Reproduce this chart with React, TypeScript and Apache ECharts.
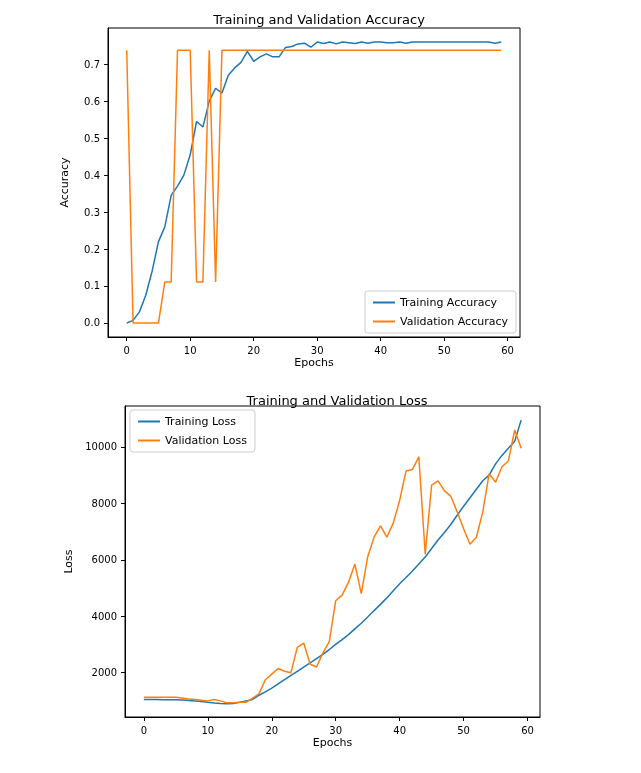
import React, { useEffect, useRef } from 'react'
import * as echarts from 'echarts';

const epochs = Array.from({ length: 60 }, (_, i) => i);

const trainAcc = [0.0, 0.007, 0.03, 0.075, 0.14, 0.22, 0.26, 0.345, 0.37, 0.4, 0.455, 0.545, 0.53, 0.6, 0.635, 0.622, 0.67, 0.69, 0.705, 0.735,
  0.708, 0.72, 0.728, 0.72, 0.72, 0.745, 0.748, 0.755, 0.757, 0.746, 0.76, 0.756, 0.76, 0.755, 0.76, 0.758, 0.756, 0.76, 0.757, 0.76,
  0.76, 0.758, 0.758, 0.76, 0.757, 0.76, 0.76, 0.76, 0.76, 0.76, 0.76, 0.76, 0.76, 0.76, 0.76, 0.76, 0.76, 0.76, 0.757, 0.76];
const valAcc = [0.738, 0, 0, 0, 0, 0, 0.111, 0.111, 0.738, 0.738, 0.738, 0.111, 0.111, 0.738, 0.111,
  ...Array(45).fill(0.738)];

const trainLoss = [1050, 1048, 1046, 1044, 1042, 1040, 1030, 1015, 1000, 980, 950, 925, 905, 900, 905, 950, 1000, 1050, 1200, 1320,
  1450, 1600, 1750, 1900, 2050, 2200, 2350, 2500, 2650, 2820, 3000, 3170, 3350, 3550, 3750, 3970, 4200, 4420, 4650, 4900,
  5150, 5370, 5600, 5850, 6100, 6400, 6700, 6970, 7250, 7580, 7900, 8200, 8500, 8800, 9000, 9400, 9700, 9950, 10200, 10950];
const valLoss = [1130, 1130, 1130, 1130, 1130, 1130, 1100, 1070, 1050, 1020, 1000, 1050, 1000, 930, 930, 950, 950, 1100, 1250, 1750,
  1950, 2150, 2050, 2000, 2900, 3050, 2300, 2200, 2700, 3100, 4550, 4750, 5200, 5850, 4800, 6100, 6800, 7200, 6800, 7300,
  8100, 9150, 9200, 9650, 6200, 8650, 8800, 8450, 8250, 7700, 7100, 6550, 6800, 7700, 9050, 8750, 9300, 9500, 10600, 9950];

const xTicks = [0, 10, 20, 30, 40, 50, 60];
const accTicks = [0, 0.1, 0.2, 0.3, 0.4, 0.5, 0.6, 0.7];
const lossTicks = [2000, 4000, 6000, 8000, 10000];

const font = 'DejaVu Sans';
const blue = '#1f77b4';
const orange = '#ff7f0e';

const App = function () {
  const dom = useRef<HTMLDivElement>(null);

  useEffect(() => {
    const chart = echarts.init(dom.current!, null, { renderer: 'svg' });
    const axisCommon = {
      axisLine: { show: true, onZero: false, lineStyle: { color: '#000' } },
      axisTick: { show: true, inside: false, length: 4, lineStyle: { color: '#000' } },
      splitLine: { show: false },
    };
    const label = (vals: number[], fmt?: (v: number) => string) => ({
      color: '#000', fontFamily: font, fontSize: 10, customValues: vals, formatter: fmt,
    });
    const xAxis = (idx: number, min: number, max: number) => ({
      type: 'value', gridIndex: idx, min, max, ...axisCommon,
      axisTick: { ...axisCommon.axisTick, customValues: xTicks },
      axisLabel: label(xTicks),
      name: 'Epochs', nameLocation: 'middle', nameGap: 20,
      nameTextStyle: { color: '#000', fontFamily: font, fontSize: 11 },
    });
    const series = (name: string, data: number[], color: string, idx: number) => ({
      name, type: 'line', xAxisIndex: idx, yAxisIndex: idx, showSymbol: false,
      data: data.map((v, i) => [epochs[i], v]), lineStyle: { color, width: 1.5 }, itemStyle: { color },
    });
    const legend = (names: string[], pos: any) => ({
      data: names, orient: 'vertical', ...pos, icon: 'rect', itemWidth: 22, itemHeight: 2, itemGap: 8,
      borderColor: '#ccc', borderWidth: 1, borderRadius: 3, padding: [6, 8],
      textStyle: { color: '#000', fontFamily: font, fontSize: 11 },
    });
    chart.setOption({
      animation: false,
      title: [
        { text: 'Training and Validation Accuracy', left: 314, top: 8, textAlign: 'center', textStyle: { fontFamily: font, fontSize: 13, fontWeight: 'normal', color: '#000' } },
        { text: 'Training and Validation Loss', left: 332, top: 389, textAlign: 'center', textStyle: { fontFamily: font, fontSize: 13, fontWeight: 'normal', color: '#000' } },
      ],
      legend: [
        legend(['Training Accuracy', 'Validation Accuracy'], { right: 125, top: 291 }),
        legend(['Training Loss', 'Validation Loss'], { left: 130, top: 410 }),
      ],
      grid: [
        { left: 108, right: 121, top: 28, height: 309, show: true, borderColor: '#000', borderWidth: 1 },
        { left: 125, right: 101, top: 406, height: 311, show: true, borderColor: '#000', borderWidth: 1 },
      ],
      xAxis: [xAxis(0, -2.95, 61.95), xAxis(1, -2.95, 61.95)],
      yAxis: [
        {
          type: 'value', gridIndex: 0, min: -0.038, max: 0.798, ...axisCommon,
          axisTick: { ...axisCommon.axisTick, customValues: accTicks },
          axisLabel: label(accTicks, (v: number) => v.toFixed(1)),
          name: 'Accuracy', nameLocation: 'middle', nameGap: 38, nameRotate: 90,
          nameTextStyle: { color: '#000', fontFamily: font, fontSize: 11 },
        },
        {
          type: 'value', gridIndex: 1, min: 429, max: 11451, ...axisCommon,
          axisTick: { ...axisCommon.axisTick, customValues: lossTicks },
          axisLabel: label(lossTicks, (v: number) => String(v)),
          name: 'Loss', nameLocation: 'middle', nameGap: 48, nameRotate: 90,
          nameTextStyle: { color: '#000', fontFamily: font, fontSize: 11 },
        },
      ],
      series: [
        series('Training Accuracy', trainAcc, blue, 0),
        series('Validation Accuracy', valAcc, orange, 0),
        series('Training Loss', trainLoss, blue, 1),
        series('Validation Loss', valLoss, orange, 1),
      ],
    });
    return () => chart.dispose();
  }, []);

  return <div ref={dom} style={{ position: 'fixed', left: 0, top: 0, width: 641, height: 773 }} />;
}

export default App
